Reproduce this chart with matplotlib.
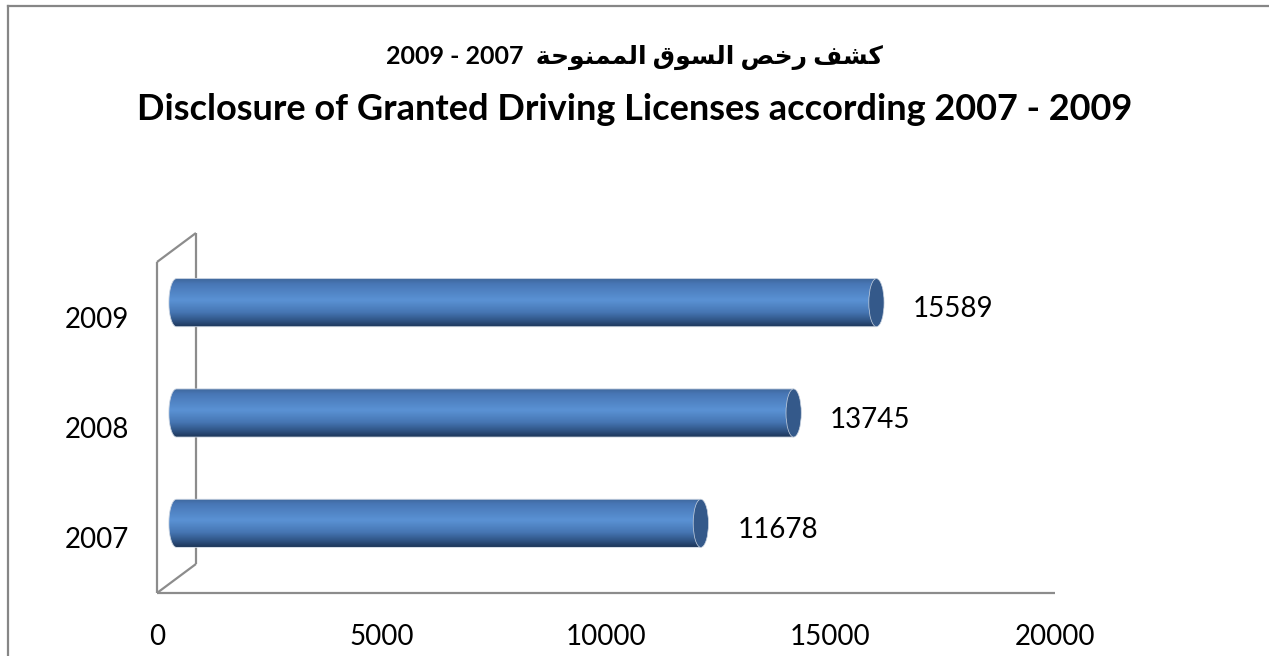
import matplotlib
matplotlib.use("Agg")
import matplotlib.pyplot as plt
import numpy as np
from matplotlib.patches import Ellipse, PathPatch
from matplotlib.path import Path
from matplotlib.lines import Line2D
from matplotlib.colors import LinearSegmentedColormap

# chart data
years = ['2007', '2008', '2009']
licenses = [11678, 13745, 15589]
x_ticks = [0, 5000, 10000, 15000, 20000]
title_ar = 'كشف رخص السوق الممنوحة'
title_years = '2007 - 2009'
title_en = 'Disclosure of Granted Driving Licenses according 2007 - 2009'

# presentation forms: isolated, final, initial, medial (matplotlib has no arabic shaping)
FORMS = {
    'ك': (0xFED9, 0xFEDA, 0xFEDB, 0xFEDC),
    'ش': (0xFEB5, 0xFEB6, 0xFEB7, 0xFEB8),
    'ف': (0xFED1, 0xFED2, 0xFED3, 0xFED4),
    'ر': (0xFEAD, 0xFEAE, None, None),
    'خ': (0xFEA5, 0xFEA6, 0xFEA7, 0xFEA8),
    'ص': (0xFEB9, 0xFEBA, 0xFEBB, 0xFEBC),
    'ا': (0xFE8D, 0xFE8E, None, None),
    'ل': (0xFEDD, 0xFEDE, 0xFEDF, 0xFEE0),
    'س': (0xFEB1, 0xFEB2, 0xFEB3, 0xFEB4),
    'و': (0xFEED, 0xFEEE, None, None),
    'ق': (0xFED5, 0xFED6, 0xFED7, 0xFED8),
    'م': (0xFEE1, 0xFEE2, 0xFEE3, 0xFEE4),
    'ن': (0xFEE5, 0xFEE6, 0xFEE7, 0xFEE8),
    'ح': (0xFEA1, 0xFEA2, 0xFEA3, 0xFEA4),
    'ة': (0xFE93, 0xFE94, None, None),
}


def shape_arabic(text):
    out = []
    for i, ch in enumerate(text):
        if ch not in FORMS:
            out.append(ch)
            continue
        prev = text[i - 1] if i > 0 else ''
        nxt = text[i + 1] if i + 1 < len(text) else ''
        joins_prev = prev in FORMS and FORMS[prev][2] is not None
        joins_next = nxt in FORMS and FORMS[ch][2] is not None
        f = FORMS[ch]
        if joins_prev and joins_next:
            code = f[3]
        elif joins_prev:
            code = f[1]
        elif joins_next:
            code = f[2]
        else:
            code = f[0]
        out.append(chr(code))
    return ''.join(out)[::-1]


# right-to-left line: numbers come out as "2009 - 2007" on the left
ar_line = ' - '.join(title_years.split(' - ')[::-1]) + '  ' + shape_arabic(title_ar)

plt.rcParams['font.family'] = ['Lato', 'DejaVu Sans']

fig = plt.figure(figsize=(12.69, 6.56), dpi=100, facecolor='white')
W, H = 1269, 656
ax = fig.add_axes([157 / W, 63 / H, 898 / W, 331 / H])
ax.set_xlim(0, 20000)
ax.set_ylim(-0.5, 2.5)
for s in ax.spines.values():
    s.set_visible(False)

# 3d wall offsets (data units)
depth_x = 868
depth_y = 0.263
grey = '#8c8c8c'
wall = [
    ([0, 20000], [-0.5, -0.5]),
    ([0, depth_x], [-0.5, -0.5 + depth_y]),
    ([0, 0], [-0.5, 2.5]),
    ([0, depth_x], [2.5, 2.5 + depth_y]),
    ([depth_x, depth_x], [-0.5 + depth_y, 2.5 + depth_y]),
]
for xs, ys in wall:
    ax.plot(xs, ys, color=grey, lw=1.6, clip_on=False, zorder=1,
            solid_capstyle='butt')

# cylinders
cyl = LinearSegmentedColormap.from_list('cyl', [
    (0.0, '#3e659a'), (0.12, '#4877b6'), (0.45, '#5a92d4'),
    (0.7, '#4676b3'), (0.88, '#2e5282'), (1.0, '#1d3659')])
grad = np.linspace(0, 1, 200).reshape(-1, 1)
half_h = 0.218
rx = 170
off_x = depth_x / 2
off_y = depth_y / 2

for i, v in enumerate(licenses):
    yc = i + off_y
    x0 = off_x
    x1 = v + off_x
    t = np.linspace(np.pi / 2, 3 * np.pi / 2, 40)
    verts = list(zip(x0 + rx * np.cos(t), yc + half_h * np.sin(t)))
    verts += [(x1, yc - half_h), (x1, yc + half_h), (x0, yc + half_h)]
    codes = [Path.MOVETO] + [Path.LINETO] * (len(verts) - 2) + [Path.CLOSEPOLY]
    body = PathPatch(Path(verts, codes), facecolor='none', edgecolor='#c9d3e0',
                     lw=0.6, zorder=3, clip_on=False)
    ax.add_patch(body)
    im = ax.imshow(grad, cmap=cyl, extent=[x0 - rx, x1, yc - half_h, yc + half_h],
                   aspect='auto', zorder=2, interpolation='bilinear')
    im.set_clip_path(body)
    cap = Ellipse((x1, yc), 2 * rx, 2 * half_h, facecolor='#34598a',
                  edgecolor='#c9d3e0', lw=0.5, zorder=4, clip_on=False)
    ax.add_patch(cap)
    ax.text(x1 + rx + 640, i + 0.07, f'{v}', fontsize=20, va='center', ha='left',
            color='black', zorder=5)

ax.set_xlim(0, 20000)
ax.set_ylim(-0.5, 2.5)
ax.set_xticks(x_ticks)
ax.set_xticklabels([str(x) for x in x_ticks])
ax.set_yticks(range(len(years)))
ax.set_yticklabels(years)
ax.tick_params(axis='x', length=0, pad=22, labelsize=20)
ax.tick_params(axis='y', length=0, pad=20, labelsize=20)

# titles
fig.text(0.5, 1 - 57 / H, ar_line, ha='center', va='center', fontsize=18,
         fontweight='bold')
fig.text(0.5, 1 - 109 / H, title_en, ha='center', va='center', fontsize=26,
         fontweight='bold')

# chart frame (only top and left edges visible in the crop)
fig.add_artist(Line2D([8 / W, 8 / W], [0, 1 - 6 / H], transform=fig.transFigure,
                      color='#868686', lw=1.6))
fig.add_artist(Line2D([8 / W, 1], [1 - 6 / H, 1 - 6 / H], transform=fig.transFigure,
                      color='#868686', lw=1.6))

fig.savefig('out.png', dpi=100)
